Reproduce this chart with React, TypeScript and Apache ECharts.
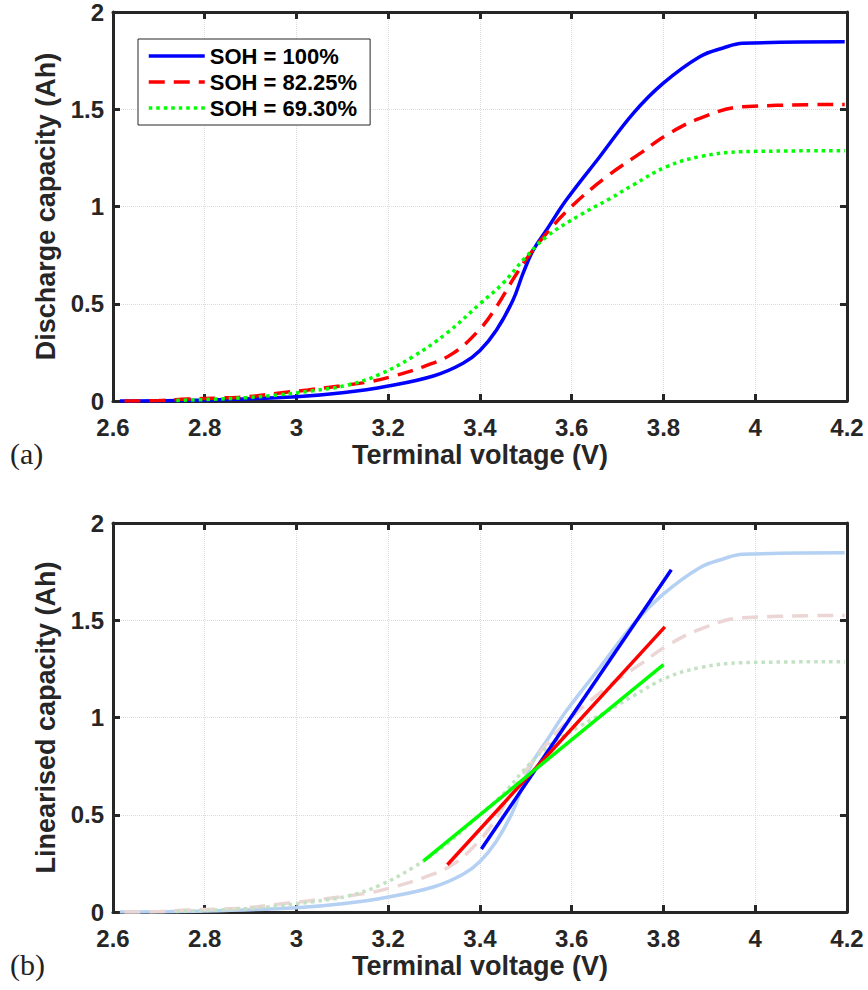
import React, { useEffect, useRef } from "react";
import * as echarts from "echarts";

// ---------- data ----------
const SERIES_NAMES = ["SOH = 100%", "SOH = 82.25%", "SOH = 69.30%"];

const SOH100_V = [2.615, 2.8, 3.0, 3.1, 3.2, 3.3, 3.363, 3.4, 3.436, 3.472, 3.494, 3.516, 3.545, 3.588, 3.661, 3.734, 3.799, 3.879, 3.93, 3.973, 4.195];
const SOH100_Q = [0.0, 0.005, 0.022, 0.042, 0.077, 0.13, 0.194, 0.26, 0.365, 0.519, 0.657, 0.776, 0.879, 1.033, 1.256, 1.479, 1.633, 1.77, 1.815, 1.839, 1.847];

const SOH82_V = [2.625, 2.7, 2.763, 2.829, 2.894, 2.959, 3.025, 3.094, 3.159, 3.207, 3.276, 3.341, 3.4, 3.436, 3.472, 3.501, 3.545, 3.599, 3.676, 3.749, 3.807, 3.879, 3.973, 4.195];
const SOH82_Q = [0.0, 0.002, 0.01, 0.015, 0.022, 0.04, 0.057, 0.077, 0.099, 0.125, 0.176, 0.245, 0.37, 0.485, 0.625, 0.73, 0.862, 0.999, 1.153, 1.273, 1.368, 1.453, 1.513, 1.525];

const SOH69_V = [2.738, 2.818, 2.89, 2.963, 3.036, 3.112, 3.182, 3.254, 3.327, 3.4, 3.45, 3.494, 3.545, 3.618, 3.683, 3.734, 3.807, 3.879, 3.973, 4.195];
const SOH69_Q = [0.003, 0.009, 0.017, 0.032, 0.053, 0.082, 0.138, 0.228, 0.348, 0.5, 0.605, 0.725, 0.845, 0.956, 1.04, 1.111, 1.205, 1.256, 1.282, 1.287];

// linearised fits (panel b)
const LIN100_V = [3.403, 3.817];
const LIN100_Q = [0.324, 1.76];
const LIN82_V = [3.329, 3.803];
const LIN82_Q = [0.243, 1.466];
const LIN69_V = [3.277, 3.8];
const LIN69_Q = [0.263, 1.272];

const X_TICKS = [2.6, 2.8, 3.0, 3.2, 3.4, 3.6, 3.8, 4.0, 4.2];
const Y_TICKS = [0, 0.5, 1, 1.5, 2];

const X_TITLE = "Terminal voltage (V)";
const Y_TITLE_A = "Discharge capacity (Ah)";
const Y_TITLE_B = "Linearised capacity (Ah)";
const PANEL_LABELS = ["(a)", "(b)"];

// ---------- helpers ----------
const zip = (xs: number[], ys: number[]) => xs.map((x, i) => [x, ys[i]]);

const AXIS = "#262626";
const FONT = "'Liberation Sans', Arial, Helvetica, sans-serif";
const GRID_LINE = { show: true, lineStyle: { color: "#dcdcdc", type: "dotted", width: 1 } };

const X_MIN = X_TICKS[0];
const X_MAX = X_TICKS[X_TICKS.length - 1];
const X_STEP = X_TICKS[1] - X_TICKS[0];
const Y_MIN = Y_TICKS[0];
const Y_MAX = Y_TICKS[Y_TICKS.length - 1];
const Y_STEP = Y_TICKS[1] - Y_TICKS[0];

function xAxes(gridIndex: number) {
  const common = {
    type: "value",
    gridIndex,
    min: X_MIN,
    max: X_MAX,
    interval: X_STEP,
    axisLine: { show: true, onZero: false, lineStyle: { color: AXIS, width: 3 } },
    axisTick: { show: true, inside: true, length: 7, lineStyle: { color: AXIS, width: 3 } },
  };
  return [
    {
      ...common,
      position: "bottom",
      axisLabel: {
        margin: 14,
        color: AXIS,
        fontSize: 24,
        fontWeight: "bold",
        fontFamily: FONT,
        formatter: (v: number) => String(Math.round(v * 10) / 10),
      },
      splitLine: GRID_LINE,
      name: X_TITLE,
      nameLocation: "middle",
      nameGap: 40,
      nameTextStyle: { fontSize: 27, fontWeight: "bold", color: AXIS, fontFamily: FONT },
    },
    {
      ...common,
      position: "top",
      axisLabel: { show: false },
      splitLine: { show: false },
    },
  ];
}

function yAxes(gridIndex: number, title: string) {
  const common = {
    type: "value",
    gridIndex,
    min: Y_MIN,
    max: Y_MAX,
    interval: Y_STEP,
    axisLine: { show: true, onZero: false, lineStyle: { color: AXIS, width: 3 } },
    axisTick: { show: true, inside: true, length: 7, lineStyle: { color: AXIS, width: 3 } },
  };
  return [
    {
      ...common,
      position: "left",
      axisLabel: { margin: 9, color: AXIS, fontSize: 24, fontWeight: "bold", fontFamily: FONT },
      splitLine: GRID_LINE,
      name: title,
      nameLocation: "middle",
      nameGap: 52,
      nameTextStyle: { fontSize: 27, fontWeight: "bold", color: AXIS, fontFamily: FONT },
    },
    {
      ...common,
      position: "right",
      axisLabel: { show: false },
      splitLine: { show: false },
    },
  ];
}

function curve(name: string, data: number[][], axisIdx: number, color: string, type: any, width = 3.5) {
  return {
    name,
    type: "line",
    xAxisIndex: axisIdx,
    yAxisIndex: axisIdx,
    data,
    showSymbol: false,
    symbol: "none",
    smooth: 0.4,
    itemStyle: { color },
    lineStyle: { color, width, type, cap: "butt" },
    emphasis: { disabled: true },
    silent: true,
  };
}

const DASH = [16, 9];
const DOT = [3.5, 4];

export default function App() {
  const ref = useRef<HTMLDivElement>(null);

  useEffect(() => {
    document.body.style.margin = "0";
    if (!ref.current) return;
    const chart = echarts.init(ref.current, null, { renderer: "svg" });

    const option = {
      animation: false,
      backgroundColor: "#ffffff",
      grid: [
        { left: 113, top: 12, width: 734, height: 389, containLabel: false },
        { left: 113, top: 523, width: 734, height: 389, containLabel: false },
      ],
      xAxis: [...xAxes(0), ...xAxes(1)],
      yAxis: [...yAxes(0, Y_TITLE_A), ...yAxes(1, Y_TITLE_B)],
      legend: {
        data: SERIES_NAMES,
        orient: "vertical",
        left: 138,
        top: 39,
        itemWidth: 56,
        itemHeight: 14,
        itemGap: 4,
        padding: [6, 13, 6, 9],
        backgroundColor: "#ffffff",
        borderColor: AXIS,
        borderWidth: 1,
        borderRadius: 0,
        selectedMode: false,
        itemStyle: { opacity: 0 },
        lineStyle: { width: 3.5 },
        textStyle: { fontSize: 22, fontWeight: "bold", color: "#000", fontFamily: FONT, lineHeight: 22 },
      },
      graphic: [
        {
          type: "text",
          left: 10,
          top: 438,
          style: { text: PANEL_LABELS[0], fontSize: 30, fontFamily: "'Liberation Serif', serif", fill: "#222" },
        },
        {
          type: "text",
          left: 10,
          top: 949,
          style: { text: PANEL_LABELS[1], fontSize: 30, fontFamily: "'Liberation Serif', serif", fill: "#222" },
        },
      ],
      series: [
        curve(SERIES_NAMES[0], zip(SOH100_V, SOH100_Q), 0, "#0000ff", "solid"),
        curve(SERIES_NAMES[1], zip(SOH82_V, SOH82_Q), 0, "#ff0000", DASH),
        curve(SERIES_NAMES[2], zip(SOH69_V, SOH69_Q), 0, "#00ff00", DOT),
        curve("faded 100", zip(SOH100_V, SOH100_Q), 2, "#b4d0f2", "solid"),
        curve("faded 82", zip(SOH82_V, SOH82_Q), 2, "#ebd5d5", DASH),
        curve("faded 69", zip(SOH69_V, SOH69_Q), 2, "#c3e1c3", DOT),
        { ...curve("lin 100", zip(LIN100_V, LIN100_Q), 2, "#0000ff", "solid", 3.5), smooth: false },
        { ...curve("lin 82", zip(LIN82_V, LIN82_Q), 2, "#ff0000", "solid", 3.5), smooth: false },
        { ...curve("lin 69", zip(LIN69_V, LIN69_Q), 2, "#00ff00", "solid", 3.5), smooth: false },
      ],
    };

    chart.setOption(option as any);
    return () => chart.dispose();
  }, []);

  return <div ref={ref} style={{ width: 868, height: 990 }} />;
}
